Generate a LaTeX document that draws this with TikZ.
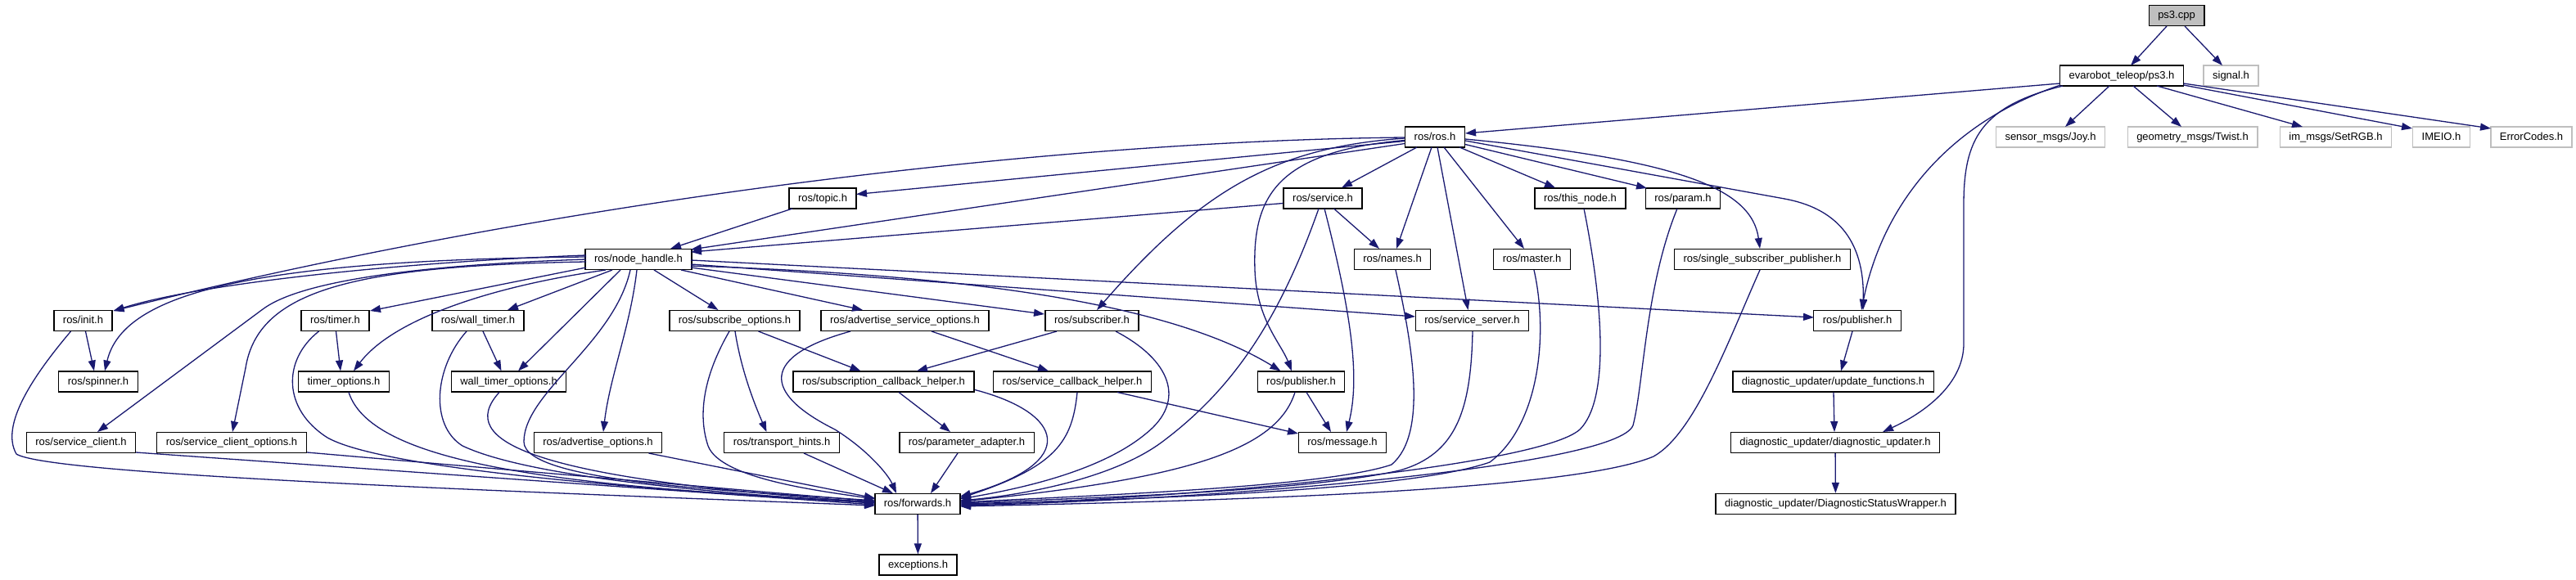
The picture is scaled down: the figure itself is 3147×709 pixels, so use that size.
\documentclass[tikz,border=0pt]{standalone}
\usepackage{fontspec}
\setmainfont{Liberation Sans}
\usetikzlibrary{calc,arrows.meta}
\definecolor{edgec}{HTML}{191970}
\definecolor{greyc}{HTML}{BFBFBF}
\newcommand\labelfont{\fontsize{13}{15}\selectfont}
\begin{document}
\begin{tikzpicture}[x=1pt,y=-1pt,
  nodebox/.style={draw=black, line width=1.4pt, fill=white, inner xsep=11pt, inner ysep=0pt,
    minimum height=25pt, text height=9.5pt, text depth=2.5pt, font=\labelfont},
  greybox/.style={nodebox, draw=greyc},
  rootbox/.style={nodebox, fill=greyc},
  conn/.style={draw=edgec, line width=1.3pt, -{Triangle[length=13pt,width=9pt]}}]
\useasboundingbox (0,0) rectangle (3147,709);
% nodes
\node[rootbox] (ps3cpp) at (2659,19) {ps3.cpp};
\node[nodebox] (evar) at (2592,92.5) {evarobot\_teleop/ps3.h};
\node[greybox] (signal) at (2725.5,92.5) {signal.h};
\node[nodebox] (ros) at (1753,167.5) {ros/ros.h};
\node[greybox] (joy) at (2505,167.5) {sensor\_msgs/Joy.h};
\node[greybox] (twist) at (2678.5,167.5) {geometry\_msgs/Twist.h};
\node[greybox] (setrgb) at (2853.5,167.5) {im\_msgs/SetRGB.h};
\node[greybox] (imeio) at (2982.5,167.5) {IMEIO.h};
\node[greybox] (errc) at (3092.5,167.5) {ErrorCodes.h};
\node[nodebox] (topic) at (1005,242.5) {ros/topic.h};
\node[nodebox] (service) at (1616,242.5) {ros/service.h};
\node[nodebox] (thisnode) at (1930.5,242.5) {ros/this\_node.h};
\node[nodebox] (param) at (2056,242.5) {ros/param.h};
\node[nodebox] (nh) at (780,317) {ros/node\_handle.h};
\node[nodebox] (names) at (1701,317) {ros/names.h};
\node[nodebox] (master) at (1871.5,317) {ros/master.h};
\node[nodebox] (ssp) at (2153,317) {ros/single\_subscriber\_publisher.h};
\node[nodebox] (init) at (101.5,392) {ros/init.h};
\node[nodebox] (timer) at (409.5,392) {ros/timer.h};
\node[nodebox] (wtimer) at (584,392) {ros/wall\_timer.h};
\node[nodebox] (subopt) at (897.5,392) {ros/subscribe\_options.h};
\node[nodebox] (advsrv) at (1105.5,392) {ros/advertise\_service\_options.h};
\node[nodebox] (subscr) at (1334,392) {ros/subscriber.h};
\node[nodebox] (srvsrv) at (1798.5,392) {ros/service\_server.h};
\node[nodebox] (pubu) at (2269,392) {ros/publisher.h};
\node[nodebox] (spinner) at (120,466.5) {ros/spinner.h};
\node[nodebox] (topt) at (420,466.5) {timer\_options.h};
\node[nodebox] (wtopt) at (621.5,466.5) {wall\_timer\_options.h};
\node[nodebox] (sch) at (1079.5,466.5) {ros/subscription\_callback\_helper.h};
\node[nodebox] (srvcb) at (1310,466.5) {ros/service\_callback\_helper.h};
\node[nodebox] (publ) at (1589.5,466.5) {ros/publisher.h};
\node[nodebox] (updf) at (2239.5,466.5) {diagnostic\_updater/update\_functions.h};
\node[nodebox] (sclient) at (99,541) {ros/service\_client.h};
\node[nodebox] (scopt) at (283,541) {ros/service\_client\_options.h};
\node[nodebox] (advopt) at (730.5,541) {ros/advertise\_options.h};
\node[nodebox] (thints) at (955,541) {ros/transport\_hints.h};
\node[nodebox] (padapt) at (1181,541) {ros/parameter\_adapter.h};
\node[nodebox] (msg) at (1640,541) {ros/message.h};
\node[nodebox] (diagu) at (2242,541) {diagnostic\_updater/diagnostic\_updater.h};
\node[nodebox] (fwd) at (1121,616) {ros/forwards.h};
\node[nodebox] (dsw) at (2242.5,616) {diagnostic\_updater/DiagnosticStatusWrapper.h};
\node[nodebox] (exc) at (1121.5,690.5) {exceptions.h};
% edges: ps3.cpp, evarobot
\draw[conn] ($(ps3cpp)+(-12,13)$) -- ($(evar)+(11,-12.5)$);
\draw[conn] ($(ps3cpp)+(10,13)$) -- ($(signal)+(-10.5,-12.5)$);
\draw[conn] ($(evar)+(-75.5,9.5)$) -- ($(ros)+(37,-4.5)$);
\draw[conn] ($(evar)+(-15,12.5)$) -- ($(joy)+(18,-12.5)$);
\draw[conn] ($(evar)+(14,12.5)$) -- ($(twist)+(-13.5,-12.5)$);
\draw[conn] ($(evar)+(43,12.5)$) -- ($(setrgb)+(-40.5,-12.5)$);
\draw[conn] ($(evar)+(75.5,11.5)$) -- ($(imeio)+(-35.5,-10.5)$);
\draw[conn] ($(evar)+(75.5,9.5)$) -- ($(errc)+(-49.5,-10.5)$);
\draw[conn] ($(evar)+(-75,11.5)$) .. controls (2380,150) and (2300,250) .. ($(pubu)+(5,-13)$);
\draw[conn] ($(evar)+(-72,12.5)$) .. controls (2420,130) and (2399,170) .. (2399,250) -- (2399,420) .. controls (2399,470) and (2350,505) .. ($(diagu)+(58,-13)$);
% ros/ros.h
\draw[conn] ($(ros)+(-37,0.5)$) .. controls (1300,172) and (700,240) .. ($(init)+(37,-12)$);
\draw[conn] ($(ros)+(-37,5)$) -- ($(topic)+(41,-5)$);
\draw[conn] ($(ros)+(-37,8)$) -- ($(nh)+(64,-12)$);
\draw[conn] ($(ros)+(-22,12.5)$) -- ($(service)+(23,-13)$);
\draw[conn] ($(ros)+(-4,12.5)$) -- ($(names)+(5,-13)$);
\draw[conn] ($(ros)+(30,12.5)$) -- ($(thisnode)+(-30.5,-13)$);
\draw[conn] ($(ros)+(37,9)$) -- ($(param)+(-44,-12.5)$);
\draw[conn] ($(ros)+(11,12.5)$) -- ($(master)+(-9.5,-13)$);
\draw[conn] ($(ros)+(3,12.5)$) -- ($(srvsrv)+(-5,-13)$);
\draw[conn] ($(ros)+(37,2.5)$) .. controls (2050,195) and (2140,230) .. ($(ssp)+(-3,-13)$);
\draw[conn] ($(ros)+(37,4.5)$) -- (2180,243) .. controls (2240,254) and (2278,290) .. ($(pubu)+(7,-13)$);
\draw[conn] ($(ros)+(-37,1.5)$) .. controls (1560,180) and (1470,230) .. ($(subscr)+(6,-13)$);
\draw[conn] ($(ros)+(-37,4)$) .. controls (1560,185) and (1530,240) .. (1533,330) .. controls (1535,390) and (1565,420) .. ($(publ)+(-11.5,-13)$);
% ros/service.h, ros/topic.h
\draw[conn] ($(service)+(-48.5,6)$) -- ($(nh)+(64,-9)$);
\draw[conn] ($(service)+(13.5,12.5)$) -- ($(names)+(-16,-13)$);
\draw[conn] ($(service)+(2,12.5)$) .. controls (1650,380) and (1662,460) .. ($(msg)+(5,-13)$);
\draw[conn] ($(service)+(-5,12.5)$) .. controls (1560,400) and (1500,480) .. (1420,540) .. controls (1360,585) and (1250,605) .. ($(fwd)+(52,-4)$);
\draw[conn] ($(topic)+(-37,12.5)$) -- ($(nh)+(39,-13)$);
% ros/node_handle.h
\draw[conn] ($(nh)+(-64,-5)$) .. controls (500,320) and (250,345) .. ($(init)+(37,-12)$);
\draw[conn] ($(nh)+(-64,-3)$) .. controls (300,318) and (150,360) .. ($(spinner)+(8,-13)$);
\draw[conn] ($(nh)+(-64,0)$) .. controls (480,325) and (361,348) .. (321,378) -- ($(sclient)+(20,-13)$);
\draw[conn] ($(nh)+(-64,3)$) .. controls (430,325) and (315,355) .. (300,450) -- ($(scopt)+(1,-13)$);
\draw[conn] ($(nh)+(-64,10)$) -- ($(timer)+(42.5,-12)$);
\draw[conn] ($(nh)+(-40,13)$) .. controls (600,350) and (480,390) .. ($(topt)+(12,-13)$);
\draw[conn] ($(nh)+(-32,13)$) -- ($(wtimer)+(36,-13)$);
\draw[conn] ($(nh)+(-22,13)$) -- ($(wtopt)+(11.5,-13)$);
\draw[conn] ($(nh)+(-10,13)$) .. controls (750,420) and (640,480) .. (640,540) .. controls (640,590) and (900,600) .. ($(fwd)+(-52,-4)$);
\draw[conn] ($(nh)+(-2,13)$) .. controls (770,400) and (745,460) .. ($(advopt)+(6.5,-13)$);
\draw[conn] ($(nh)+(19,13)$) -- ($(subopt)+(-20,-13)$);
\draw[conn] ($(nh)+(52,13)$) -- ($(advsrv)+(-51.5,-13)$);
\draw[conn] ($(nh)+(64,10)$) -- ($(subscr)+(-58,-8)$);
\draw[conn] ($(nh)+(64,1)$) -- ($(pubu)+(-53,-4)$);
\draw[conn] ($(nh)+(64,6)$) -- ($(srvsrv)+(-69.5,-5)$);
\draw[conn] ($(nh)+(64,8)$) .. controls (1150,335) and (1420,365) .. ($(publ)+(-25,-13)$);
% row 5
\draw[conn] ($(init)+(3,13)$) -- ($(spinner)+(-5,-13)$);
\draw[conn] ($(init)+(-15,13)$) .. controls (40,460) and (0,520) .. (20,555) .. controls (60,580) and (600,600) .. ($(fwd)+(-52,2)$);
\draw[conn] ($(timer)+(1,13)$) -- ($(topt)+(-4,-13)$);
\draw[conn] ($(timer)+(-20,13)$) .. controls (345,440) and (345,500) .. (400,535) .. controls (480,580) and (900,605) .. ($(fwd)+(-52,-1)$);
\draw[conn] ($(wtimer)+(6,13)$) -- ($(wtopt)+(-9,-13)$);
\draw[conn] ($(wtimer)+(-14,13)$) .. controls (530,450) and (525,520) .. (565,545) .. controls (660,590) and (950,607) .. ($(fwd)+(-52,-1)$);
\draw[conn] ($(subopt)+(0.5,13)$) .. controls (905,450) and (920,490) .. ($(thints)+(-18.5,-13)$);
\draw[conn] ($(subopt)+(-6.5,13)$) .. controls (865,450) and (850,500) .. (865,545) .. controls (880,585) and (1000,600) .. ($(fwd)+(-52,-6)$);
\draw[conn] ($(subopt)+(29,13)$) -- ($(sch)+(-28,-13)$);
\draw[conn] ($(advsrv)+(32.5,13)$) -- ($(srvcb)+(-29,-13)$);
\draw[conn] ($(advsrv)+(-66.5,13)$) .. controls (930,435) and (930,480) .. (1020,525) .. controls (1060,550) and (1085,580) .. ($(fwd)+(-26,-13)$);
\draw[conn] ($(subscr)+(-43,13)$) -- ($(sch)+(40.5,-13)$);
\draw[conn] ($(subscr)+(29,13)$) .. controls (1430,440) and (1450,490) .. (1400,530) .. controls (1340,580) and (1230,600) .. ($(fwd)+(52,-6)$);
\draw[conn] ($(srvsrv)+(0.5,13)$) .. controls (1797,500) and (1780,555) .. (1710,575) .. controls (1600,600) and (1350,608) .. ($(fwd)+(52,-1)$);
\draw[conn] ($(pubu)+(-6,13)$) -- ($(updf)+(9.5,-13)$);
% row 4 to forwards
\draw[conn] ($(names)+(4,13)$) .. controls (1725,420) and (1745,530) .. (1700,568) .. controls (1620,595) and (1350,605) .. ($(fwd)+(52,-2)$);
\draw[conn] ($(master)+(2.5,13)$) .. controls (1892,410) and (1880,520) .. (1820,565) .. controls (1720,600) and (1400,610) .. ($(fwd)+(52,0)$);
\draw[conn] ($(thisnode)+(4.5,12.5)$) .. controls (1960,380) and (1965,490) .. (1930,525) .. controls (1880,570) and (1450,610) .. ($(fwd)+(52,1)$);
\draw[conn] ($(param)+(-7,12.5)$) .. controls (2010,350) and (2008,470) .. (1995,520) .. controls (1975,570) and (1500,610) .. ($(fwd)+(52,2)$);
\draw[conn] ($(ssp)+(-3,13)$) .. controls (2110,420) and (2070,530) .. (2020,558) .. controls (1920,600) and (1500,612) .. ($(fwd)+(52,3)$);
% row 6
\draw[conn] ($(topt)+(6,13)$) .. controls (455,570) and (700,595) .. ($(fwd)+(-52,-2)$);
\draw[conn] ($(wtopt)+(-11.5,13)$) .. controls (555,540) and (650,585) .. ($(fwd)+(-52,-2)$);
\draw[conn] ($(sch)+(18.5,13)$) -- ($(padapt)+(-20,-13)$);
\draw[conn] ($(sch)+(111.5,10)$) .. controls (1300,505) and (1320,565) .. ($(fwd)+(52,-9)$);
\draw[conn] ($(srvcb)+(6,13)$) .. controls (1310,540) and (1290,570) .. ($(fwd)+(52,-7)$);
\draw[conn] ($(srvcb)+(55,13)$) -- ($(msg)+(-54,-11)$);
\draw[conn] ($(publ)+(6.5,13)$) -- ($(msg)+(-14,-13)$);
\draw[conn] ($(publ)+(-7.5,13)$) .. controls (1560,550) and (1450,585) .. ($(fwd)+(52,-3)$);
\draw[conn] ($(updf)+(0.5,13)$) -- ($(diagu)+(-1,-13)$);
% row 7
\draw[conn] ($(sclient)+(67,12)$) -- ($(fwd)+(-52,1)$);
\draw[conn] ($(scopt)+(92,12)$) -- ($(fwd)+(-52,-3)$);
\draw[conn] ($(advopt)+(62,13)$) -- ($(fwd)+(-52,-7)$);
\draw[conn] ($(thints)+(27,13)$) -- ($(fwd)+(-30,-13)$);
\draw[conn] ($(padapt)+(-11,13)$) -- ($(fwd)+(16,-13)$);
\draw[conn] (diagu) -- (dsw);
\draw[conn] (fwd) -- (exc);
\end{tikzpicture}
\end{document}
